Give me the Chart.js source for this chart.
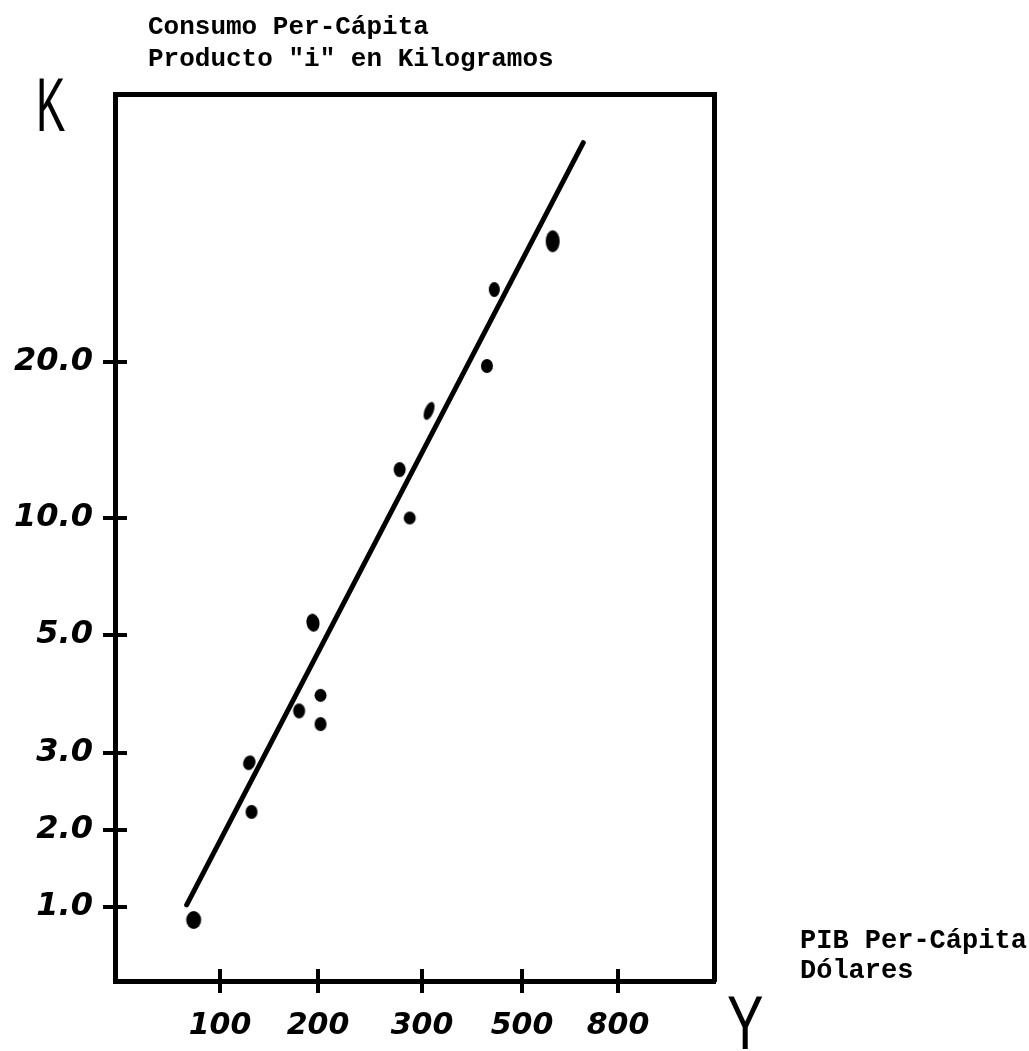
<!DOCTYPE html>
<html>
<head>
<meta charset="utf-8">
<script src="https://cdn.jsdelivr.net/npm/chart.js@4.4.0/dist/chart.umd.min.js"></script>
<style>
html,body{margin:0;padding:0;background:#fff;}
#wrap{position:relative;width:1029px;height:1051px;overflow:hidden;background:#fff;}
#c{position:absolute;left:0;top:0;}
.t{position:absolute;font-family:"Liberation Mono","DejaVu Sans Mono",monospace;font-weight:bold;font-size:26px;line-height:32px;color:#000;white-space:pre;}
.big{position:absolute;font-family:"Liberation Sans",Arial,sans-serif;font-size:76px;line-height:76px;color:#000;transform-origin:0 0;}
</style>
</head>
<body>
<div id="wrap">
<canvas id="c" width="1029" height="1051"></canvas>
<div class="t" style="left:148px;top:11px;">Consumo Per-Cápita
Producto "i" en Kilogramos</div>
<div class="big" style="left:36px;top:67px;transform:scaleX(0.58);">K</div>
<div class="big" style="left:727px;top:985px;transform:scaleX(0.72);">Y</div>
<div class="t" style="left:800px;top:926px;font-size:27px;line-height:30px;">PIB Per-Cápita
Dólares</div>
</div>
<script>
// ---- data ----
const gdpPerCapita  = [83, 123, 125, 175, 193, 202, 202, 275, 286, 311, 418, 434, 581];   // dólares
const consumptionKg = [0.89, 2.85, 2.20, 3.60, 5.38, 3.85, 3.40, 12.4, 10.0, 16.1, 19.65, 27.6, 34.2]; // kg
const fitGdp = [79, 675];
const fitKg  = [1.02, 53];

const xTickValues = [100, 200, 300, 500, 800];
const xTickLabels = ['100', '200', '300', '500', '800'];
const yTickValues = [1, 2, 3, 5, 10, 20];
const yTickLabels = ['1.0', '2.0', '3.0', '5.0', '10.0', '20.0'];

// ---- hand-drawn axis geometry (where each tick sits along the drawn axis) ----
const xTickSpots = [1.05, 2.03, 3.07, 4.07, 5.03];
const yTickSpots = [0.74, 1.51, 2.28, 3.46, 4.63, 6.19];
const xMaxSpot = 5.99, yMaxSpot = 8.87;

function makeMap(vals, spots) {
  const L = vals.map(Math.log10);
  return v => {
    const l = Math.log10(v);
    let i = 0;
    while (i < L.length - 2 && l > L[i + 1]) i++;
    return spots[i] + (l - L[i]) * (spots[i + 1] - spots[i]) / (L[i + 1] - L[i]);
  };
}
const mx = makeMap(xTickValues, xTickSpots);
const my = makeMap(yTickValues, yTickSpots);

// ink-blot dots (style only)
const dotShapes = [[15,18,0],[12,15,20],[12,14,0],[12,15,0],[13,18,-10],[12,13,0],[12,14,0],[12,15,0],[12,13,0],[9,19,22],[12,14,0],[11,15,0],[14,22,0]];
function dot(w, h, rot) {
  const c = document.createElement('canvas');
  const s = Math.ceil(Math.max(w, h)) + 2;
  c.width = s; c.height = s;
  const g = c.getContext('2d');
  g.fillStyle = '#000';
  g.beginPath();
  g.ellipse(s / 2, s / 2, w / 2, h / 2, rot * Math.PI / 180, 0, Math.PI * 2);
  g.fill();
  return c;
}
const dotStyles = dotShapes.map(d => dot(d[0], d[1], d[2]));

const crossTicks = {
  id: 'crossTicks',
  afterDraw(chart) {
    const {ctx, chartArea: a, scales: {x, y}} = chart;
    ctx.save();
    ctx.strokeStyle = '#000';
    ctx.lineWidth = 4;
    x.ticks.forEach((t, i) => {
      const px = x.getPixelForTick(i);
      ctx.beginPath(); ctx.moveTo(px, a.bottom); ctx.lineTo(px, a.bottom - 12); ctx.stroke();
    });
    y.ticks.forEach((t, i) => {
      const py = y.getPixelForTick(i);
      ctx.beginPath(); ctx.moveTo(a.left, py); ctx.lineTo(a.left + 12, py); ctx.stroke();
    });
    ctx.restore();
  }
};

const xTickFont = {family: '"DejaVu Sans", sans-serif', size: 30, weight: 'bold', style: 'italic'};
const yTickFont = {family: '"DejaVu Sans", sans-serif', size: 32, weight: 'bold', style: 'italic'};
const frameBorder = {display: true, width: 5, color: '#000'};

new Chart(document.getElementById('c'), {
  type: 'scatter',
  data: {
    datasets: [
      {
        label: 'Ajuste',
        data: fitGdp.map((g, i) => ({x: mx(g), y: my(fitKg[i])})),
        showLine: true,
        borderColor: '#000',
        borderWidth: 5,
        borderCapStyle: 'round',
        pointRadius: 0,
        xAxisID: 'x', yAxisID: 'y'
      },
      {
        label: 'Países',
        data: gdpPerCapita.map((g, i) => ({x: mx(g), y: my(consumptionKg[i])})),
        pointStyle: dotStyles,
        pointRadius: 7,
        backgroundColor: '#000',
        borderColor: '#000',
        xAxisID: 'x', yAxisID: 'y'
      }
    ]
  },
  options: {
    responsive: false,
    animation: false,
    devicePixelRatio: 1,
    events: [],
    layout: {padding: {top: 94, right: 315, left: 0, bottom: 0}},
    plugins: {legend: {display: false}, tooltip: {enabled: false}, title: {display: false}},
    scales: {
      x: {
        type: 'linear', position: 'bottom', min: 0, max: xMaxSpot,
        afterBuildTicks: s => { s.ticks = xTickValues.map(v => ({value: mx(v)})); },
        afterFit: s => { s.height = 70; },
        ticks: {autoSkip: false, maxRotation: 0, padding: 15, color: '#000', font: xTickFont,
                callback: (v, i) => xTickLabels[i]},
        grid: {display: true, drawOnChartArea: false, drawTicks: true, tickLength: 12, lineWidth: 4, color: '#000'},
        border: frameBorder
      },
      y: {
        type: 'linear', position: 'left', min: 0, max: yMaxSpot,
        afterBuildTicks: s => { s.ticks = yTickValues.map(v => ({value: my(v)})); },
        afterFit: s => { s.width = 115; },
        ticks: {autoSkip: false, padding: 10, color: '#000', font: yTickFont,
                callback: (v, i) => yTickLabels[i]},
        grid: {display: true, drawOnChartArea: false, drawTicks: true, tickLength: 12, lineWidth: 4, color: '#000'},
        border: frameBorder
      },
      x2: {
        type: 'linear', position: 'top', min: 0, max: 1,
        afterFit: s => { s.height = 0; },
        ticks: {display: false},
        grid: {display: false, drawTicks: false},
        border: frameBorder
      },
      y2: {
        type: 'linear', position: 'right', min: 0, max: 1,
        afterFit: s => { s.width = 0; },
        ticks: {display: false},
        grid: {display: false, drawTicks: false},
        border: frameBorder
      }
    }
  },
  plugins: [crossTicks]
});
</script>
</body>
</html>
